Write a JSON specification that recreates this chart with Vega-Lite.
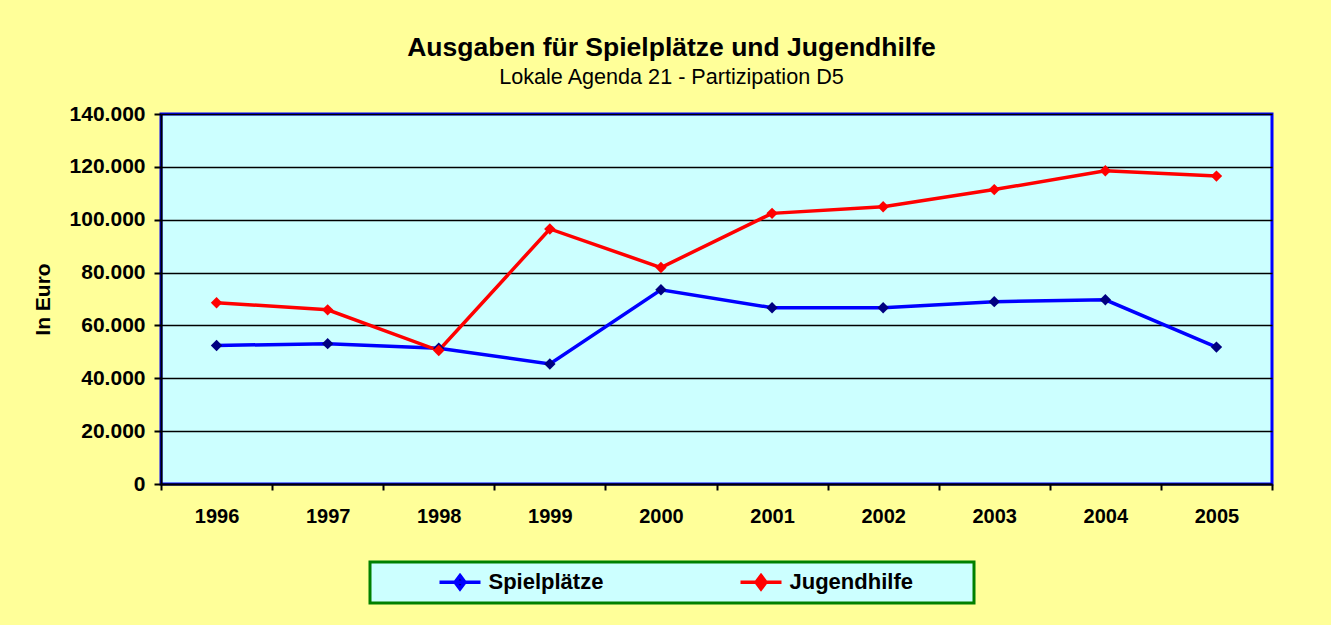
{
  "$schema": "https://vega.github.io/schema/vega-lite/v6.json",
  "width": 1111,
  "height": 370,
  "autosize": {"type": "none"},
  "padding": {"left": 161, "top": 114, "right": 59, "bottom": 141},
  "background": "#FFFF99",
  "title": {
    "text": "Ausgaben für Spielplätze und Jugendhilfe",
    "subtitle": "Lokale Agenda 21 - Partizipation D5",
    "anchor": "middle",
    "dx": -45,
    "offset": 14,
    "font": "Liberation Sans",
    "fontSize": 26.5,
    "fontWeight": "bold",
    "color": "black",
    "subtitleFont": "Liberation Sans",
    "subtitleFontSize": 21.6,
    "subtitleColor": "black",
    "subtitlePadding": 6
  },
  "data": {
    "values": [
      {"year": "1996", "series": "Spielplätze", "value": 52400},
      {"year": "1997", "series": "Spielplätze", "value": 53100},
      {"year": "1998", "series": "Spielplätze", "value": 51400},
      {"year": "1999", "series": "Spielplätze", "value": 45400},
      {"year": "2000", "series": "Spielplätze", "value": 73500},
      {"year": "2001", "series": "Spielplätze", "value": 66700},
      {"year": "2002", "series": "Spielplätze", "value": 66700},
      {"year": "2003", "series": "Spielplätze", "value": 69000},
      {"year": "2004", "series": "Spielplätze", "value": 69700},
      {"year": "2005", "series": "Spielplätze", "value": 51800},
      {"year": "1996", "series": "Jugendhilfe", "value": 68600},
      {"year": "1997", "series": "Jugendhilfe", "value": 65900},
      {"year": "1998", "series": "Jugendhilfe", "value": 50500},
      {"year": "1999", "series": "Jugendhilfe", "value": 96500},
      {"year": "2000", "series": "Jugendhilfe", "value": 81900},
      {"year": "2001", "series": "Jugendhilfe", "value": 102400},
      {"year": "2002", "series": "Jugendhilfe", "value": 104900},
      {"year": "2003", "series": "Jugendhilfe", "value": 111400},
      {"year": "2004", "series": "Jugendhilfe", "value": 118500},
      {"year": "2005", "series": "Jugendhilfe", "value": 116500}
    ]
  },
  "config": {
    "font": "Liberation Sans",
    "view": {"fill": "#CCFFFF", "stroke": "#0000FF", "strokeWidth": 3},
    "axis": {
      "labelFont": "Liberation Sans",
      "labelFontWeight": "bold",
      "labelColor": "black",
      "labelFontSize": 20,
      "domainColor": "black",
      "domainWidth": 2,
      "tickColor": "black",
      "tickWidth": 2,
      "titleFont": "Liberation Sans",
      "titleFontWeight": "bold",
      "titleColor": "black"
    }
  },
  "layer": [
    {
      "mark": {"type": "line", "strokeWidth": 3.5},
      "encoding": {
        "x": {
          "field": "year",
          "type": "ordinal",
          "bandPosition": 0.5,
          "scale": {"type": "band", "paddingInner": 0, "paddingOuter": 0},
          "axis": {"title": null, "labelAngle": 0, "tickBand": "extent", "tickSize": 6, "labelPadding": 16, "grid": false}
        },
        "y": {
          "field": "value",
          "type": "quantitative",
          "scale": {"domain": [0, 140000]},
          "axis": {
            "title": "In Euro",
            "titleFontSize": 21,
            "titlePadding": 16,
            "values": [0, 20000, 40000, 60000, 80000, 100000, 120000, 140000],
            "labelExpr": "replace(format(datum.value, ','), ',', '.')",
            "labelFontSize": 21,
            "grid": true,
            "gridColor": "black",
            "gridWidth": 1.5,
            "gridOpacity": 1,
            "tickSize": 7,
            "labelPadding": 9
          }
        },
        "color": {
          "field": "series",
          "type": "nominal",
          "scale": {"domain": ["Spielplätze", "Jugendhilfe"], "range": ["#0000FF", "#FF0000"]},
          "legend": {
            "orient": "none",
            "legendX": 209,
            "legendY": 448,
            "direction": "horizontal",
            "title": "\u00a0",
            "titleOrient": "left",
            "titlePadding": 70,
            "titleFontSize": 22,
            "padding": 7,
            "fillColor": "#CCFFFF",
            "strokeColor": "#008000",
            "labelFont": "Liberation Sans",
            "labelFontWeight": "bold",
            "labelFontSize": 22,
            "labelColor": "black",
            "labelOffset": 15.5,
            "labelLimit": 400,
            "columnPadding": 67,
            "symbolType": "M-1.864,0H1.864M0,-0.6L0.45,0L0,0.6L-0.45,0ZM18.04,0",
            "symbolSize": 484,
            "symbolStrokeWidth": 3.5,
            "encode": {
              "symbols": {"update": {"fill": {"scale": "fill", "field": "value"}, "stroke": {"scale": "color", "field": "value"}}},
              "legend": {"update": {"strokeWidth": {"value": 3}}}
            }
          }
        }
      }
    },
    {
      "mark": {"type": "point", "shape": "diamond", "filled": true, "size": 130, "opacity": 1},
      "encoding": {
        "x": {"field": "year", "type": "ordinal", "bandPosition": 0.5},
        "y": {"field": "value", "type": "quantitative"},
        "fill": {
          "field": "series",
          "type": "nominal",
          "scale": {"domain": ["Spielplätze", "Jugendhilfe"], "range": ["#000080", "#FF0000"]},
          "legend": null
        }
      }
    }
  ]
}
